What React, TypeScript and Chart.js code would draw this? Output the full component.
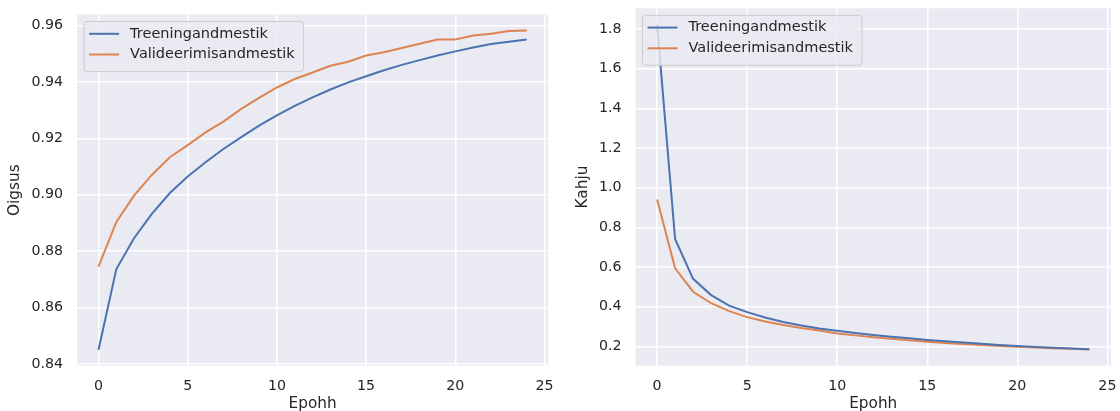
import React, { useEffect, useRef } from "react";
import { Chart, registerables } from "chart.js";

Chart.register(...registerables);

// ---- data ----
const epochs = [0, 1, 2, 3, 4, 5, 6, 7, 8, 9, 10, 11, 12, 13, 14, 15, 16, 17, 18, 19, 20, 21, 22, 23, 24];

const trainAcc = [0.8451, 0.8737, 0.8847, 0.8933, 0.9006, 0.9065, 0.9115, 0.9162, 0.9204, 0.9245, 0.9281, 0.9315, 0.9345, 0.9373, 0.9398, 0.942, 0.9441, 0.946, 0.9477, 0.9493, 0.9508, 0.9522, 0.9534, 0.9542, 0.955];
const valAcc = [0.8745, 0.8904, 0.8998, 0.9071, 0.9133, 0.9176, 0.9221, 0.9259, 0.9304, 0.9343, 0.938, 0.941, 0.9433, 0.9457, 0.9471, 0.9493, 0.9505, 0.952, 0.9535, 0.955, 0.955, 0.9564, 0.957, 0.958, 0.9582];

const trainLoss = [1.822, 0.74, 0.54, 0.458, 0.405, 0.372, 0.345, 0.322, 0.305, 0.29, 0.278, 0.267, 0.257, 0.248, 0.24, 0.232, 0.225, 0.219, 0.213, 0.207, 0.202, 0.197, 0.193, 0.189, 0.185];
const valLoss = [0.94, 0.593, 0.475, 0.417, 0.377, 0.347, 0.325, 0.307, 0.292, 0.279, 0.265, 0.255, 0.246, 0.238, 0.23, 0.223, 0.217, 0.211, 0.206, 0.202, 0.198, 0.194, 0.19, 0.187, 0.184];

const xTicks = [0, 5, 10, 15, 20, 25];
const accTicks = [0.84, 0.86, 0.88, 0.9, 0.92, 0.94, 0.96];
const lossTicks = [0.2, 0.4, 0.6, 0.8, 1.0, 1.2, 1.4, 1.6, 1.8];

const seriesLabels = ["Treeningandmestik", "Valideerimisandmestik"];
const xTitle = "Epohh";
const accTitle = "Oigsus";
const lossTitle = "Kahju";

// ---- style ----
const BLUE = "#4C72B0";
const ORANGE = "#DD8452";
const BG = "#EAEAF2";
const TEXT = "#262626";
const FONT = "'DejaVu Sans', 'Liberation Sans', sans-serif";

const bgPlugin = {
  id: "axesBg",
  beforeDraw(chart: any) {
    const { ctx, chartArea } = chart;
    ctx.save();
    ctx.fillStyle = BG;
    ctx.fillRect(chartArea.left, chartArea.top, chartArea.right - chartArea.left, chartArea.bottom - chartArea.top);
    ctx.restore();
  },
};

const legendPlugin = {
  id: "boxLegend",
  afterDatasetsDraw(chart: any) {
    const { ctx, chartArea } = chart;
    const ds = chart.data.datasets;
    ctx.save();
    ctx.font = `14.5px ${FONT}`;
    let maxW = 0;
    ds.forEach((d: any) => {
      maxW = Math.max(maxW, ctx.measureText(d.label).width);
    });
    const bx = chartArea.left + 7;
    const by = chartArea.top + 7;
    const bw = 46 + maxW + 9;
    const bh = 50;
    const r = 3;
    ctx.beginPath();
    ctx.moveTo(bx + r, by);
    ctx.lineTo(bx + bw - r, by);
    ctx.quadraticCurveTo(bx + bw, by, bx + bw, by + r);
    ctx.lineTo(bx + bw, by + bh - r);
    ctx.quadraticCurveTo(bx + bw, by + bh, bx + bw - r, by + bh);
    ctx.lineTo(bx + r, by + bh);
    ctx.quadraticCurveTo(bx, by + bh, bx, by + bh - r);
    ctx.lineTo(bx, by + r);
    ctx.quadraticCurveTo(bx, by, bx + r, by);
    ctx.closePath();
    ctx.fillStyle = "rgba(234,234,242,0.8)";
    ctx.fill();
    ctx.strokeStyle = "#cccccc";
    ctx.lineWidth = 1;
    ctx.stroke();
    ds.forEach((d: any, i: number) => {
      const y = by + 12.3 + i * 20.7;
      ctx.beginPath();
      ctx.moveTo(bx + 5, y);
      ctx.lineTo(bx + 35, y);
      ctx.strokeStyle = d.borderColor;
      ctx.lineWidth = 2;
      ctx.stroke();
      ctx.fillStyle = TEXT;
      ctx.textBaseline = "middle";
      ctx.textAlign = "left";
      ctx.fillText(d.label, bx + 46, y);
    });
    ctx.restore();
  },
};

type PanelSpec = {
  left: number;
  train: number[];
  val: number[];
  yTicks: number[];
  yDecimals: number;
  yTitle: string;
  yAxisWidth: number;
  yTitlePad: number;
  padTop: number;
  padRight: number;
};

function marginRange(a: number[], b: number[]) {
  const all = a.concat(b);
  const mn = Math.min(...all);
  const mx = Math.max(...all);
  const m = (mx - mn) * 0.05;
  return [mn - m, mx + m];
}

function buildConfig(spec: PanelSpec): any {
  const [yMin, yMax] = marginRange(spec.train, spec.val);
  const span = epochs[epochs.length - 1] - epochs[0];
  const xMin = epochs[0] - span * 0.05;
  const xMax = epochs[epochs.length - 1] + span * 0.05;
  const plotBottom = 365.7;
  const titleFont = { family: FONT, size: 15.3, lineHeight: 0.9 };
  return {
    type: "line",
    data: {
      datasets: [
        {
          label: seriesLabels[0],
          data: epochs.map((e, i) => ({ x: e, y: spec.train[i] })),
          borderColor: BLUE,
          backgroundColor: BLUE,
          borderWidth: 2,
          pointRadius: 0,
          tension: 0,
          fill: false,
        },
        {
          label: seriesLabels[1],
          data: epochs.map((e, i) => ({ x: e, y: spec.val[i] })),
          borderColor: ORANGE,
          backgroundColor: ORANGE,
          borderWidth: 2,
          pointRadius: 0,
          tension: 0,
          fill: false,
        },
      ],
    },
    options: {
      responsive: false,
      animation: false,
      devicePixelRatio: 1,
      layout: { padding: { left: 0, right: spec.padRight, top: spec.padTop, bottom: 0 } },
      plugins: { legend: { display: false }, tooltip: { enabled: false } },
      scales: {
        x: {
          type: "linear",
          min: xMin,
          max: xMax,
          afterBuildTicks: (s: any) => {
            s.ticks = xTicks.map((v) => ({ value: v }));
          },
          afterFit: (s: any) => {
            s.height = 411 - plotBottom;
            s.paddingLeft = 0;
            s.paddingRight = 0;
          },
          grid: { color: "#ffffff", lineWidth: 1.5, drawTicks: false },
          border: { display: false },
          ticks: {
            padding: 12,
            color: TEXT,
            font: { family: FONT, size: 14.2 },
            maxRotation: 0,
            autoSkip: false,
            callback: (v: any) => String(v),
          },
          title: {
            display: true,
            text: xTitle,
            color: TEXT,
            font: titleFont,
            padding: { top: 0, bottom: 0 },
          },
        },
        y: {
          type: "linear",
          min: yMin,
          max: yMax,
          afterBuildTicks: (s: any) => {
            s.ticks = spec.yTicks.map((v) => ({ value: v }));
          },
          afterFit: (s: any) => {
            s.width = spec.yAxisWidth;
            s.paddingTop = 0;
            s.paddingBottom = 0;
          },
          grid: { color: "#ffffff", lineWidth: 1.5, drawTicks: false },
          border: { display: false },
          ticks: {
            padding: 14,
            color: TEXT,
            font: { family: FONT, size: 14.2 },
            autoSkip: false,
            callback: (v: any) => Number(v).toFixed(spec.yDecimals),
          },
          title: {
            display: true,
            text: spec.yTitle,
            color: TEXT,
            font: titleFont,
            padding: { top: spec.yTitlePad, bottom: 0 },
          },
        },
      },
    },
    plugins: [bgPlugin, legendPlugin],
  };
}

function Panel({ spec }: { spec: PanelSpec }) {
  const ref = useRef<HTMLCanvasElement>(null);
  useEffect(() => {
    const chart = new Chart(ref.current as HTMLCanvasElement, buildConfig(spec));
    return () => chart.destroy();
  }, []);
  return (
    <canvas
      ref={ref}
      width={560}
      height={411}
      style={{ position: "absolute", left: spec.left, top: 0, width: 560, height: 411 }}
    />
  );
}

const leftSpec: PanelSpec = {
  left: 0,
  train: trainAcc,
  val: valAcc,
  yTicks: accTicks,
  yDecimals: 2,
  yTitle: accTitle,
  yAxisWidth: 77.1,
  yTitlePad: 8.1,
  padTop: 14.5,
  padRight: 560 - 548.1,
};

const rightSpec: PanelSpec = {
  left: 560,
  train: trainLoss,
  val: valLoss,
  yTicks: lossTicks,
  yDecimals: 1,
  yTitle: lossTitle,
  yAxisWidth: 75.5,
  yTitlePad: 16.4,
  padTop: 8.3,
  padRight: 560 - 551,
};

export default function App() {
  return (
    <div
      style={{
        position: "absolute",
        left: 0,
        top: 0,
        width: 1120,
        height: 411,
        background: "#ffffff",
        overflow: "hidden",
      }}
    >
      <Panel spec={leftSpec} />
      <Panel spec={rightSpec} />
    </div>
  );
}
